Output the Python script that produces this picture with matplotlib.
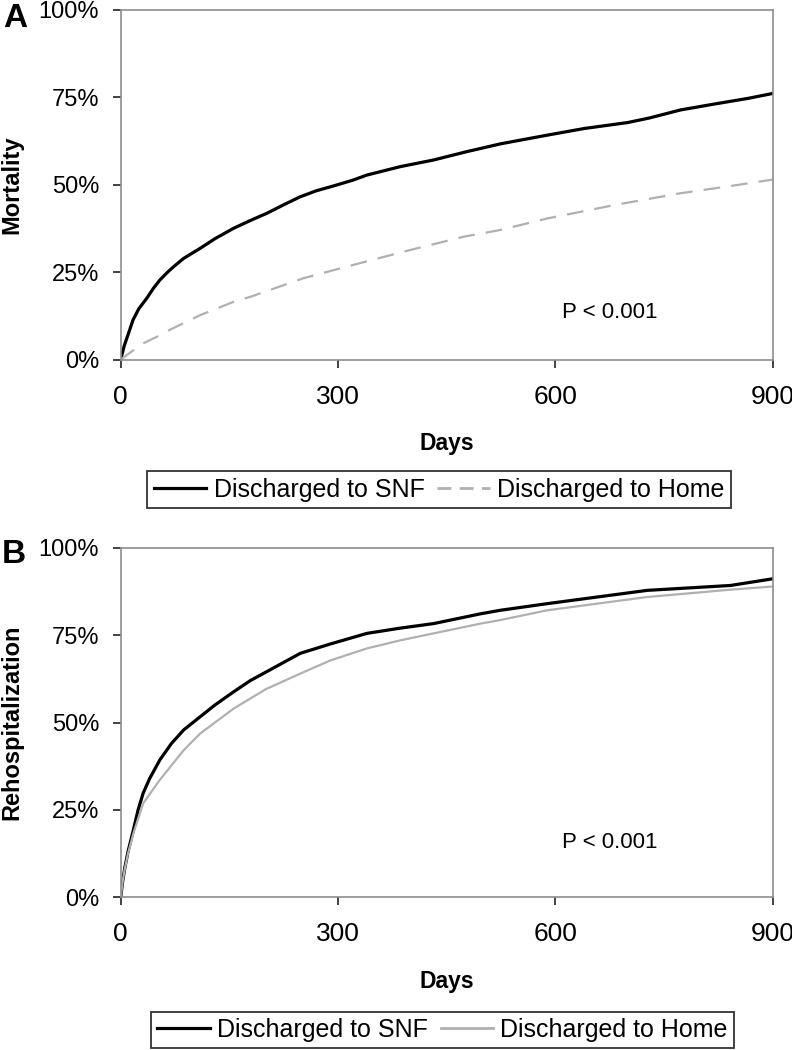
import matplotlib
matplotlib.use("Agg")
import matplotlib.pyplot as plt
from matplotlib.lines import Line2D

plt.rcParams['font.family'] = ['Liberation Sans', 'DejaVu Sans']

# ---- Data ----
mort_snf_days = [0, 5, 10, 17, 25, 36, 45, 54, 65, 73, 87, 110, 130, 156, 180, 202, 225,
                 248, 270, 294, 320, 340, 386, 432, 478, 497, 524, 589, 640, 700, 730,
                 773, 820, 866, 900]
mort_snf_vals = [0, 4, 7, 11.3, 14.5, 17.5, 20.3, 22.7, 25, 26.5, 28.9, 31.8, 34.5, 37.5,
                 39.8, 41.8, 44.2, 46.5, 48.2, 49.6, 51.2, 52.7, 55.1, 57, 59.4, 60.3,
                 61.6, 64.1, 66, 67.7, 69, 71.3, 73, 74.6, 76]
mort_home_days = [0, 10, 20, 31, 50, 68, 110, 156, 179, 252, 326, 400, 474, 524, 589,
                  681, 773, 840, 900]
mort_home_vals = [0, 1.5, 3, 4.6, 6.5, 8.5, 12.7, 16.5, 17.9, 23.2, 27.3, 31.3, 35.1,
                  37, 40.3, 44.1, 47.5, 49.5, 51.4]

reh_snf_days = [0, 3, 6, 10, 17.5, 24, 31, 40, 54, 70, 87, 110, 130, 156, 179, 210,
                248, 290, 340, 386, 432, 497, 524, 589, 727, 842, 900]
reh_snf_vals = [0, 5, 8.8, 13, 19.3, 25, 29.8, 34, 39.3, 44, 47.9, 51.7, 55, 58.8, 62,
                65.5, 69.8, 72.5, 75.5, 77, 78.3, 81.1, 82.1, 84.0, 87.8, 89.2, 91.1]
reh_home_days = [0, 3, 6, 10, 17.5, 31, 54, 87, 110, 156, 200, 248, 290, 340, 386, 432,
                 497, 524, 589, 727, 842, 900]
reh_home_vals = [0, 5, 8.5, 12.5, 18.3, 26.9, 33.6, 42.1, 46.9, 54, 59.5, 64, 67.8,
                 71.2, 73.5, 75.5, 78.3, 79.3, 82.1, 85.9, 88.0, 88.9]

x_ticks = [0, 300, 600, 900]
y_ticks = [0, 25, 50, 75, 100]
y_tick_labels = ['0%', '25%', '50%', '75%', '100%']
legend_labels = ['Discharged to SNF', 'Discharged to Home']
p_text = 'P < 0.001'

W, H = 792, 1050
fig = plt.figure(figsize=(W / 100, H / 100), dpi=100)

def fx(px):
    return px / W

def fy(py):
    return 1 - py / H

GRAY_SPINE = '#8c8c8c'
HOME_COL = '#b0b0b0'
AX_L, AX_R = 120.7, 772.5
AX_W = AX_R - AX_L

def style_axes(ax, ylabel):
    ax.set_xlim(0, 900)
    ax.set_ylim(0, 100)
    ax.set_xticks(x_ticks)
    ax.set_xticklabels([str(t) for t in x_ticks], fontsize=19)
    ax.set_yticks(y_ticks)
    ax.set_yticklabels(y_tick_labels, fontsize=17)
    for s in ax.spines.values():
        s.set_color(GRAY_SPINE)
        s.set_linewidth(1.2)
    ax.tick_params(axis='both', direction='out', length=6, width=1.2, color='#222222')
    ax.tick_params(axis='x', pad=12)
    ax.tick_params(axis='y', pad=9.5)
    ax.set_xlabel('Days', fontsize=16.5, fontweight='bold', labelpad=17)
    ax.set_ylabel(ylabel, fontsize=17, fontweight='bold')
    # right edge of rotated label at ~23 px from figure left
    ax.yaxis.set_label_coords((23 - AX_L) / AX_W, 0.5)

# Panel A
axA = fig.add_axes([fx(AX_L), fy(359.5), fx(AX_R) - fx(AX_L), fy(9.5) - fy(359.5)])
axA.plot(mort_snf_days, mort_snf_vals, color='black', lw=2.3, solid_joinstyle='round')
axA.plot(mort_home_days, mort_home_vals, color=HOME_COL, lw=1.6, dashes=(7.5, 5))
style_axes(axA, 'Mortality')
axA.text(675, 13.4, p_text, fontsize=16, ha='center', va='center')

# Panel B
axB = fig.add_axes([fx(AX_L), fy(897.4), fx(AX_R) - fx(AX_L), fy(547.7) - fy(897.4)])
axB.plot(reh_snf_days, reh_snf_vals, color='black', lw=2.3, solid_joinstyle='round')
axB.plot(reh_home_days, reh_home_vals, color=HOME_COL, lw=1.6)
style_axes(axB, 'Rehospitalization')
axB.text(675, 15.7, p_text, fontsize=16, ha='center', va='center')

# Panel letters
fig.text(fx(3), fy(3), 'A', fontsize=24, fontweight='bold', ha='left', va='top')
fig.text(fx(2), fy(539), 'B', fontsize=24, fontweight='bold', ha='left', va='top')

# Legends
def add_legend(cx, cy, home_dashed):
    h1 = Line2D([], [], color='black', lw=2.3)
    if home_dashed:
        h2 = Line2D([], [], color=HOME_COL, lw=2.0, dashes=(5, 3))
    else:
        h2 = Line2D([], [], color=HOME_COL, lw=2.0)
    leg = fig.legend([h1, h2], legend_labels, loc='center',
                     bbox_to_anchor=(fx(cx), fy(cy)), ncol=2, fontsize=18,
                     frameon=True, fancybox=False, handlelength=2.1,
                     handletextpad=0.3, columnspacing=0.5, borderpad=0.25,
                     borderaxespad=0)
    fr = leg.get_frame()
    fr.set_edgecolor('black')
    fr.set_linewidth(1.3)
    return leg

add_legend(439, 489.5, True)
add_legend(442.5, 1030, False)

fig.savefig('out.png', dpi=100)
